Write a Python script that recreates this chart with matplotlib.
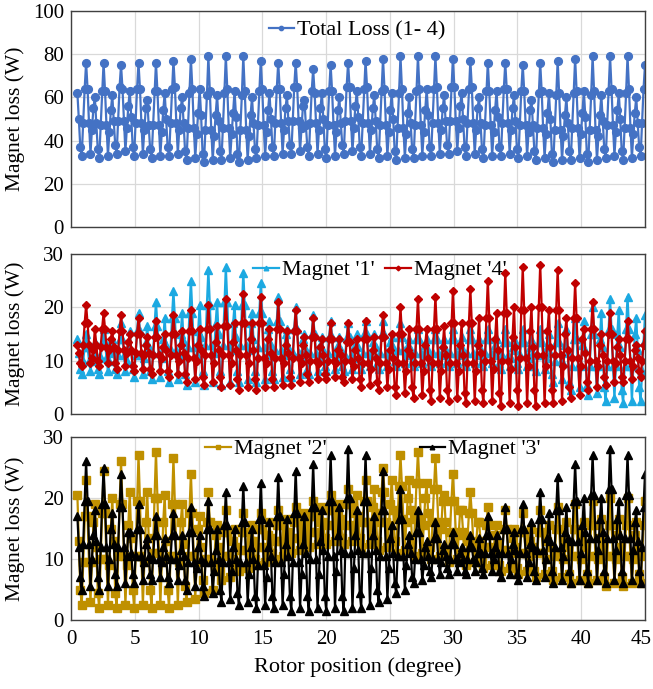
import numpy as np
import matplotlib
matplotlib.use("Agg")
import matplotlib.pyplot as plt
import matplotlib.transforms as mtransforms

plt.rcParams['font.family'] = ['Liberation Serif', 'DejaVu Serif']

# ---------------- data ----------------
angle_start, angle_end, n_points = 0.5, 45.0, 391
rotor_pos = np.linspace(angle_start, angle_end, n_points)

total_loss = [
    62,50,37,33,48,64,76,64,48,34,45,55,  60,48,36,32,47,63,76,63,47,33,44,54,
    61,49,38,34,49,65,75,64,49,35,46,56,  63,51,37,33,48,64,76,64,48,34,45,55,
    59,47,36,32,47,63,76,63,47,33,44,54,  62,50,37,33,48,64,77,65,48,34,45,55,
    60,48,35,31,46,62,78,64,46,32,43,53,  64,52,34,30,45,61,79,63,45,31,42,52,
    61,49,35,31,46,62,79,64,46,32,43,53,  63,51,34,30,45,61,79,63,45,31,42,52,
    60,48,36,32,47,63,77,64,47,33,44,54,  62,50,37,33,48,64,76,64,48,34,45,55,
    61,49,38,34,49,65,76,65,49,35,46,56,  59,47,37,33,48,63,73,62,48,34,45,55,
    62,50,36,32,47,63,75,63,47,33,44,54,  60,48,38,34,49,65,76,65,49,35,46,56,
    63,51,37,33,48,64,77,65,48,34,45,55,  61,49,36,32,47,63,78,64,47,33,44,54,
    62,50,35,31,46,62,79,64,46,32,43,53,  60,48,36,32,47,63,79,64,47,33,44,54,
    64,52,37,33,48,64,79,65,48,34,45,55,  61,49,38,34,49,65,78,65,49,35,46,56,
    62,50,37,33,48,64,77,65,48,34,45,55,  60,48,36,32,47,63,76,63,47,33,44,54,
    63,51,37,33,48,64,76,64,48,34,45,55,  61,49,36,32,47,63,75,63,47,33,44,54,
    59,47,35,31,46,62,76,63,46,32,43,53,  62,50,34,30,45,61,77,62,45,31,42,52,
    60,48,35,31,46,62,78,63,46,32,43,53,  63,51,34,30,45,61,79,63,45,31,42,52,
    61,49,36,32,47,63,79,64,47,33,44,54,  62,50,35,31,46,62,79,64,46,32,43,53,
    60,48,37,33,48,64,75,
]

magnet1 = [
    14,11.5,8.5,7.5,10,12.5,15,12.5,10,8,10,12.5,
    13.5,11,8.5,7.5,10.5,13.5,16,13.5,10.5,8,10,12,
    14,11.5,8.5,7.5,11,14,17,14,11,8,10,12.5,
    15.5,12,8.5,7,11,15.5,19,15.5,11,7.5,10.5,13.5,
    16.5,12.5,8,6.5,11.5,16.5,21,16.5,11.5,7,10.5,14,
    18,13,8,6,12,18,23,18,12,6.5,11,15,
    19,13.5,7.5,5.5,12.5,19,25,19,12.5,6,11,15.5,
    20.5,14.5,8,5.5,13,20.5,27,20.5,13,6,11.5,17,
    21,15,8,5.5,13,21,27.5,21,13,6,12,17,
    20.5,14.5,8,6,13,20.5,26.5,20.5,13,6.5,12,17,
    19,14,8,6,12.5,19,24.5,19,12.5,6.5,11,16,
    17.5,13,8,6.5,12,17.5,22,17.5,12,7,11,15,
    16,12.5,8.5,7,11.5,16,20,16,11.5,7.5,10.5,14,
    15,12,8.5,7.5,11.5,15,18.5,15,11.5,8,10.5,13,
    14.5,12,9,8,11.5,14.5,17.5,14.5,11.5,8.5,10.5,13,
    14.5,12,9,8,11,14.5,17,14.5,11,8.5,10.5,13,
    15,12.5,9.5,8.5,11.5,15,17.5,15,11.5,9,11,13.5,
    15,12.5,9.5,8.5,11.5,15,17.5,15,11.5,9,11,13.5,
    14.5,12.5,10,9,12,14.5,17,14.5,12,9.5,11,13,
    14,12,10,9,11.5,14,16,14,11.5,9.5,11,13,
    14,12,10,9,11.5,14,16,14,11.5,9.5,11,13,
    14,12,10,9,11.5,14,16,14,11.5,9.5,11,13,
    14.5,12,10,9,11.5,14,16,14,11.5,9.5,11,13.5,
    14,12,10,9,11.5,14,16,14,11.5,9.5,11,13,
    14,12,9.5,8.5,11,13.5,16,13.5,11,9,10.5,12.5,
    14,12,9.5,8.5,11,13.5,16,13.5,11,9,10.5,12.5,
    14,11.5,9,8,11,13.5,16,13.5,11,8.5,10.5,12.5,
    15,11.5,7.5,6,10,13.5,17,13.5,10,6.5,9.5,13,
    16,11.5,6,4.5,9,14,18,14,9,5,9,13,
    17.5,12,5.5,3.5,9,15,20,15,9,4,9,14,
    19,12.5,5,2.5,9,16,21.5,16,9,3,9,15,
    19.5,12.5,4.5,2,9,16,22,16,9,2.5,9,15,
    18,12,5,2.5,8,13.5,18.5,
]

magnet4 = [
    13,11.5,9.5,9,13,17,20.5,17,13,9.5,10.5,12,
    16,13,10,9,12.5,16,19,16,12.5,9.5,12,14,
    15.5,12.5,9.5,8.5,12,15.5,18.5,15.5,12,9,11.5,13.5,
    15,12,9,8,11.5,15,18,15,11.5,8.5,11,13,
    14.5,11.5,8.5,7.5,11,14.5,17.5,14.5,11,8,10.5,12.5,
    15,12,8,7,11,15,18.5,15,11,7.5,10,13,
    15.5,11.5,7.5,6,10.5,15.5,19.5,15.5,10.5,6.5,10,13,
    16,12,7,5.5,11,16,20.5,16,11,6,9.5,13.5,
    16.5,12,7,5,11,16.5,21.5,16.5,11,5.5,9.5,13.5,
    17,12,6.5,4.5,11,17,22.5,17,11,5,9.5,14,
    17,12,6.5,4.5,10.5,17,22,17,10.5,5,9.5,14,
    16,11.5,6.5,5,10.5,16,21,16,10.5,5.5,9.5,13,
    15.5,11.5,7,5.5,10.5,15.5,19.5,15.5,10.5,6,9.5,13,
    14.5,11,7.5,6,10,14.5,18,14.5,10,6.5,9.5,12.5,
    14,11,7.5,6.5,10,14,17,14,10,7,9.5,12,
    14,11,7,6,10,13.5,17,13.5,10,6.5,9,12,
    14,10.5,6.5,5,9.5,14,17.5,14,9.5,5.5,8.5,12,
    14.5,10.5,6,4.5,9.5,14.5,18.5,14.5,9.5,5,8.5,12,
    15,10.5,5,3.5,9.5,15,20,15,9.5,4,8,12,
    16,11,5,3,9.5,16,21.5,16,9.5,3.5,8,13,
    16,10.5,4.5,2.5,9.5,16,22,16,9.5,3,8,12.5,
    16.5,11,4.5,2.5,9.5,17,23,17,9.5,3,8,13,
    17,11,4,2,9.5,17,23.5,17,9.5,2.5,8,13,
    18,11.5,4.5,2,10,18,25,18,10,2.5,8.5,14,
    19,12,4,1.5,10,19,26.5,19,10,2,8.5,14.5,
    20,12.5,4.5,1.5,10.5,19.5,27.5,19.5,10.5,2,9,15.5,
    20,12.5,4.5,1.5,11,20,28,20,11,2,9,15.5,
    19.5,12.5,4.5,2,11,19.5,27,19.5,11,2.5,9,15,
    18,12,5,3,10.5,18,24.5,18,10.5,3.5,9,14,
    16,11.5,6,4.5,10,16,21,16,10,5,9,13,
    15,11,7,5.5,10,15,19,15,10,6,9.5,12.5,
    14,11,7,6,10,14,17.5,14,10,6.5,9,12,
    13,10.5,8,7,10,13,15.5,
]

magnet2 = [
    20.5,13,5,2.5,9.5,17,23,17,9.5,3,9.5,16,
    19,12,4.5,2,10,17.5,24.5,17.5,10,2.5,9,15,
    20,13,4.5,2,10.5,19,26,19,10.5,2.5,9,15.5,
    21,13.5,5,2,10.5,19.5,27,19.5,10.5,2.5,9.5,16,
    21,13.5,5,2,11,20,27.5,20,11,2.5,9.5,16,
    20.5,13,5,2,10.5,19,26.5,19,10.5,2.5,9.5,16,
    19,12.5,5.5,3,10.5,17.5,24,17.5,10.5,3.5,9.5,15,
    17,12,6.5,4.5,10,16,21,16,10,5,9.5,14,
    15.5,12,8,6.5,10.5,14.5,18,14.5,10.5,7,10,13,
    15,12,9,8,11.5,14.5,17.5,14.5,11.5,8.5,11,13,
    15.5,13,10,9,12,15,17.5,15,12,9.5,11.5,14,
    16,13.5,11,10,13,15.5,18,15.5,13,10.5,12.5,14.5,
    16.5,14.5,12,11,13.5,16,18.5,16,13.5,11.5,13,15,
    17.5,15.5,13,12,14.5,17,19.5,17,14.5,12.5,14,16,
    18.5,16,13.5,12.5,15.5,18,20.5,18,15.5,13,15,17,
    19,16.5,13.5,12.5,15.5,19,21.5,19,15.5,13,15,17.5,
    20.5,17,13.5,12,16,19.5,23,19.5,16,12.5,15.5,18.5,
    21.5,17.5,13,11.5,16,21,25,21,16,12,15.5,19,
    23,18,13,11,16.5,22,27,22,16.5,11.5,16,20,
    23,18,12.5,10.5,16.5,22.5,27.5,22.5,16.5,11,15.5,20,
    22.5,17.5,12,10,16,21.5,26.5,21.5,16,10.5,15,19.5,
    20.5,16,11,9.5,14.5,19.5,24,19.5,14.5,10,14,18,
    18,14.5,10.5,9,13,17.5,21,17.5,13,9.5,12.5,16,
    16,13,9.5,8.5,12,15.5,18.5,15.5,12,9,11.5,14,
    15.5,12.5,9,8,11.5,15,18,15,11.5,8.5,11,13.5,
    15,12,8.5,7.5,11,14.5,17.5,14.5,11,8,10.5,13,
    15,12,8,7,11,14.5,18,14.5,11,7.5,10,13,
    15.5,12,8,6.5,10.5,15,18.5,15,10.5,7,10,13,
    16,12,7.5,6,10.5,15,19,15,10.5,6.5,10,13.5,
    16,12,7.5,6,10.5,15.5,19.5,15.5,10.5,6.5,10,13.5,
    16.5,12,7,5.5,10.5,15.5,20,15.5,10.5,6,10,14,
    16.5,12,7,5.5,10.5,15.5,20,15.5,10.5,6,10,14,
    16,12,7.5,6,10.5,15.5,19.5,
]

magnet3 = [
    17,12,7,5,12.5,19.5,26,19.5,12.5,5.5,10,14,
    18,13,7,5,12,19,25,19,12,5.5,10,15,
    17.5,12.5,7.5,5.5,12,18.5,24,18.5,12,6,10.5,14.5,
    14.5,11,7.5,6,10.5,15,19,15,10.5,6.5,9.5,12.5,
    13.5,10.5,7.5,6.5,10,14,17,14,10,7,9.5,12,
    13.5,10.5,7,6,10,14,17.5,14,10,6.5,9,11.5,
    14,10.5,6.5,5,9.5,14.5,18.5,14.5,9.5,5.5,8.5,12,
    14,10,5.5,4,9.5,15,19.5,15,9.5,4.5,8,11.5,
    15,10,5,3,9.5,15.5,21,15.5,9.5,3.5,8,12,
    15,10,4.5,2.5,9.5,16,22,16,9.5,3,7.5,12,
    15,10,4,2,9,16.5,22.5,16.5,9,2.5,7,12,
    16,10.5,4,2,9.5,17,23.5,17,9.5,2.5,7.5,12.5,
    16.5,10.5,4,1.5,9.5,17.5,24.5,17.5,9.5,2,7.5,12.5,
    17,11,4,1.5,10,18.5,25.5,18.5,10,2,7.5,13,
    18,11.5,4,1.5,10.5,19.5,27,19.5,10.5,2,8,14,
    18.5,11.5,4,1.5,11,20,28,20,11,2,8.5,14,
    18,11.5,4.5,2,11,19.5,27,19.5,11,2.5,8.5,14,
    17,11.5,5,3,10.5,18,24.5,18,10.5,3.5,8.5,13.5,
    15.5,11,6,4.5,10.5,16.5,21.5,16.5,10.5,5,9,12.5,
    14,11,7,6,10,14.5,18,14.5,10,6.5,9,12,
    13,10.5,8,7,10,13.5,16,13.5,10,7.5,9.5,11.5,
    12.5,10.5,8.5,7.5,10,12.5,14.5,12.5,10,8,9.5,11,
    12,10,8,7.5,10,12,14,12,10,8,9.5,11,
    13.5,11,8.5,7.5,11,14,17,14,11,8,10,12,
    14,11,8,7,11,15,18.5,15,11,7.5,10,12.5,
    14.5,11.5,7.5,6.5,11,15,19,15,11,7,9.5,12.5,
    16,12,8,6.5,11.5,16.5,21,16.5,11.5,7,10,13.5,
    17.5,13,8,6,12,18,23.5,18,12,6.5,10.5,14.5,
    18.5,13.5,8,6,13,19.5,25.5,19.5,13,6.5,11,15.5,
    20,14.5,8,6,13.5,20.5,27,20.5,13.5,6.5,11.5,16.5,
    20,14.5,8,6,13.5,21.5,28,21.5,13.5,6.5,11.5,16.5,
    19.5,14,8,6,13.5,20.5,27,20.5,13.5,6.5,11.5,16,
    18,13,8,6,12,18.5,24,
]

panel1_label = "Total Loss (1- 4)"
panel2_labels = ["Magnet '1'", "Magnet '4'"]
panel3_labels = ["Magnet '2'", "Magnet '3'"]
x_ticks = [0, 5, 10, 15, 20, 25, 30, 35, 40, 45]
y_ticks_top = [0, 20, 40, 60, 80, 100]
y_ticks_mag = [0, 10, 20, 30]

# ---------------- figure ----------------
W, H = 653, 689
fig = plt.figure(figsize=(W / 100, H / 100), dpi=100)

def frac_axes(left, top, right, bottom):
    return fig.add_axes([left / W, 1 - bottom / H, (right - left) / W, (bottom - top) / H])

ax1 = frac_axes(71, 11, 645, 227)
ax2 = frac_axes(71, 254, 645, 414)
ax3 = frac_axes(71, 437, 645, 620)

TICK_FS = 15
YLAB_FS = 15.5
XLAB_FS = 16
LEG_FS = 16

for ax, yt in [(ax1, y_ticks_top), (ax2, y_ticks_mag), (ax3, y_ticks_mag)]:
    ax.set_xlim(0, 45)
    ax.set_ylim(yt[0], yt[-1])
    ax.set_xticks(x_ticks)
    ax.set_yticks(yt)
    ax.grid(True, color='#d9d9d9', linewidth=0.9)
    ax.set_axisbelow(True)
    for s in ax.spines.values():
        s.set_color('#404040')
        s.set_linewidth(1.0)
    ax.tick_params(length=0, labelsize=TICK_FS, pad=5)
    ax.set_ylabel('Magnet loss (W)', fontsize=YLAB_FS)
    ax.yaxis.set_label_coords(-0.08, 0.5)

ax1.tick_params(labelbottom=False)
ax2.tick_params(labelbottom=False)
ax3.tick_params(axis='x', pad=7)

lw = 1.6
ax1.plot(rotor_pos, total_loss, color='#4472C4', marker='o', markersize=5.6,
         linewidth=lw, label=panel1_label)
ax2.plot(rotor_pos, magnet1, color='#1CA9E1', marker='^', markersize=6.0,
         linewidth=lw, label=panel2_labels[0])
ax2.plot(rotor_pos, magnet4, color='#C00000', marker='D', markersize=4.4,
         linewidth=lw, label=panel2_labels[1])
ax3.plot(rotor_pos, magnet2, color='#BF9000', marker='s', markersize=5.4,
         linewidth=lw, label=panel3_labels[0])
ax3.plot(rotor_pos, magnet3, color='#000000', marker='^', markersize=6.0,
         linewidth=lw, label=panel3_labels[1])

ax3.set_xlabel('Rotor position (degree)', fontsize=XLAB_FS, labelpad=6)

# keep the last x tick label ("45") inside the canvas
last_lbl = ax3.get_xticklabels()[-1]
last_lbl.set_transform(last_lbl.get_transform() +
                       mtransforms.ScaledTranslation(-4 / 100, 0, fig.dpi_scale_trans))

leg_kw = dict(frameon=False, fontsize=LEG_FS, handlelength=1.15, handletextpad=0.12,
              markerscale=0.55, borderaxespad=0.0, borderpad=0.0)
ax1.legend(loc='center', bbox_to_anchor=(0.498, 0.912), **leg_kw)
ax2.legend(loc='center', bbox_to_anchor=(0.538, 0.90), ncol=2,
           columnspacing=0.5, **leg_kw)
ax3.legend(loc='center', bbox_to_anchor=(0.526, 0.934), ncol=2,
           columnspacing=4.2, **leg_kw)

fig.savefig('out.png', dpi=100)
